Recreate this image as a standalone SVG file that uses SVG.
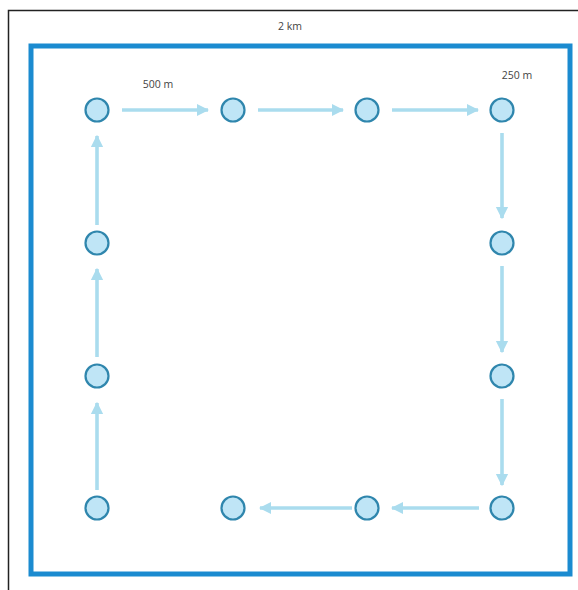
<svg xmlns="http://www.w3.org/2000/svg" width="578" height="590" viewBox="0 0 578 590">
  <defs>
    <marker id="head" viewBox="0 0 10 10" refX="9" refY="5" markerWidth="3.4" markerHeight="4" orient="auto" markerUnits="strokeWidth">
      <path d="M0,0 L10,5 L0,10 Z" fill="#aadcee"/>
    </marker>
    <style>
      .frame { fill: none; stroke: #1b8bd0; stroke-width: 5; }
      .edge { fill: none; stroke: #aadcee; stroke-width: 3.6; marker-end: url(#head); }
      .node circle { fill: #bfe5f6; stroke: #2f86ad; stroke-width: 2.2; }
      .label { font-family: "Open Sans", "Liberation Sans", sans-serif; font-size: 10.5px; fill: #444; text-anchor: middle; }
    </style>
  </defs>

  <rect x="0" y="0" width="578" height="590" fill="#ffffff"/>
  <!-- outer page border -->
  <path d="M8.5,590 V10.5 H578" fill="none" stroke="#222" stroke-width="1.5"/>

  <!-- survey area boundary -->
  <rect class="frame" x="31" y="46" width="539" height="528"/>
  <text class="label" x="290" y="30">2 km</text>
  <text class="label" x="158" y="88">500 m</text>
  <text class="label" x="517" y="79">250 m</text>

  <g id="connectors">
    <line class="edge" x1="122" y1="110" x2="208" y2="110"/>
    <line class="edge" x1="258" y1="110" x2="343" y2="110"/>
    <line class="edge" x1="392" y1="110" x2="478" y2="110"/>
    <line class="edge" x1="502" y1="133" x2="502" y2="218"/>
    <line class="edge" x1="502" y1="266" x2="502" y2="352"/>
    <line class="edge" x1="502" y1="399" x2="502" y2="485"/>
    <line class="edge" x1="479" y1="508" x2="392" y2="508"/>
    <line class="edge" x1="352" y1="508" x2="260" y2="508"/>
    <line class="edge" x1="97" y1="490" x2="97" y2="403"/>
    <line class="edge" x1="97" y1="357" x2="97" y2="269"/>
    <line class="edge" x1="97" y1="225" x2="97" y2="136"/>
  </g>

  <g id="n1" class="node"><circle cx="97" cy="110" r="11.5"/></g>
  <g id="n2" class="node"><circle cx="233" cy="110" r="11.5"/></g>
  <g id="n3" class="node"><circle cx="367" cy="110" r="11.5"/></g>
  <g id="n4" class="node"><circle cx="502" cy="110" r="11.5"/></g>
  <g id="n5" class="node"><circle cx="502" cy="243" r="11.5"/></g>
  <g id="n6" class="node"><circle cx="502" cy="376" r="11.5"/></g>
  <g id="n7" class="node"><circle cx="502" cy="508" r="11.5"/></g>
  <g id="n8" class="node"><circle cx="367" cy="508" r="11.5"/></g>
  <g id="n9" class="node"><circle cx="233" cy="508" r="11.5"/></g>
  <g id="n10" class="node"><circle cx="97" cy="508" r="11.5"/></g>
  <g id="n11" class="node"><circle cx="97" cy="376" r="11.5"/></g>
  <g id="n12" class="node"><circle cx="97" cy="243" r="11.5"/></g>
</svg>
